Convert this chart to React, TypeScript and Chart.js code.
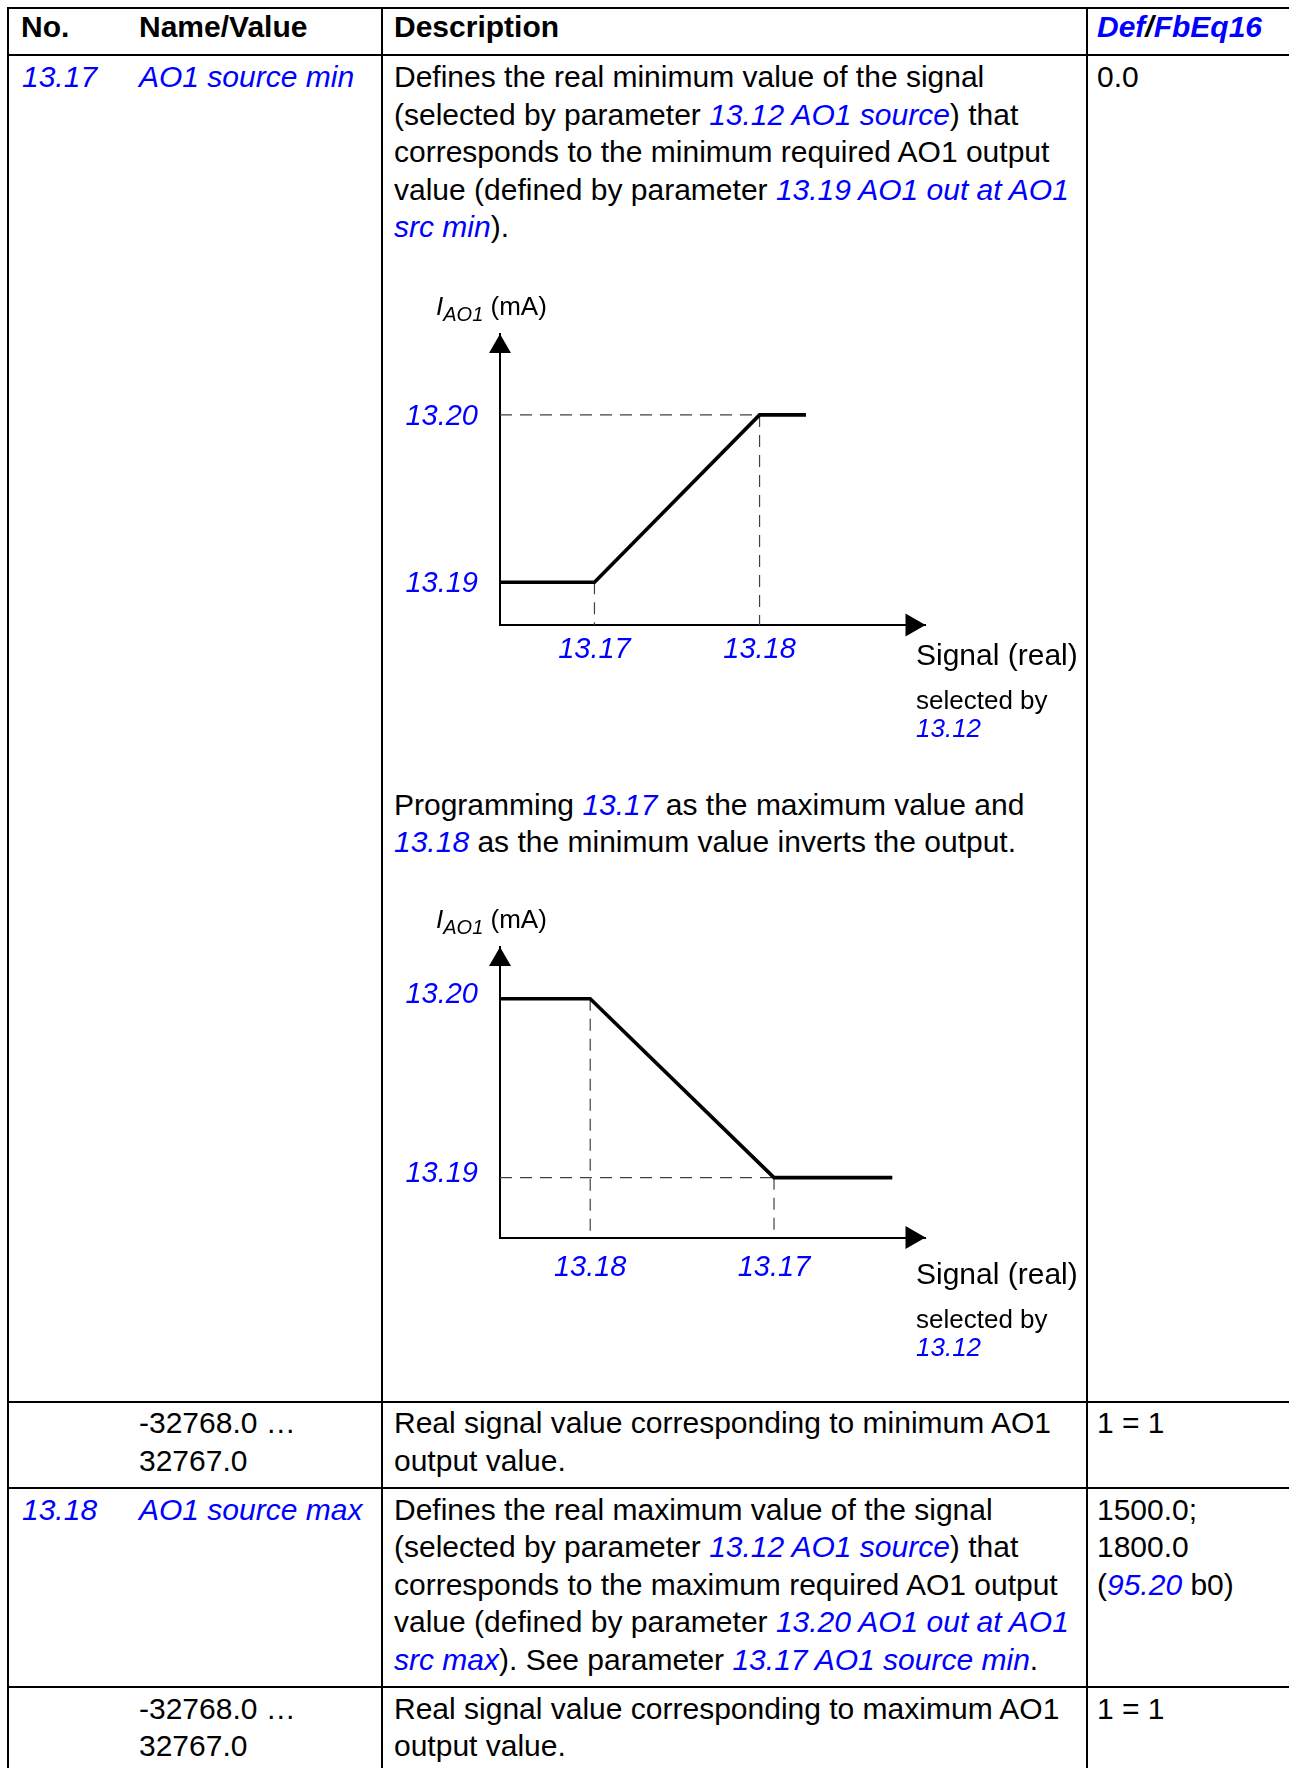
import React, { useEffect, useRef } from "react";
import { Chart, registerables } from "chart.js";

Chart.register(...registerables);

const FONT = '"Liberation Sans", Arial, Helvetica, sans-serif';
const BLUE = "#0000ff";

// ---------- Diagram 1: normal scaling (axis units 0..100 of drawn axis length) ----------
const d1XTickValues = [22.2, 61.0];
const d1XTickLabels = ["13.17", "13.18"];
const d1YTickValues = [14.7, 72.2];
const d1YTickLabels = ["13.19", "13.20"];
const d1CurveX = [0, 22.2, 61.0, 71.9];
const d1CurveY = [14.7, 14.7, 72.2, 72.2];
// guide lines: [x1, y1, x2, y2]
const d1Guides = [
  [0, 72.2, 61.0, 72.2],
  [61.0, 72.2, 61.0, 0],
  [22.2, 14.7, 22.2, 0],
];

// ---------- Diagram 2: inverted scaling ----------
const d2XTickValues = [21.2, 64.4];
const d2XTickLabels = ["13.18", "13.17"];
const d2YTickValues = [20.6, 82.2];
const d2YTickLabels = ["13.19", "13.20"];
const d2CurveX = [0, 21.2, 64.4, 92.2];
const d2CurveY = [82.2, 82.2, 20.6, 20.6];
const d2Guides = [
  [21.2, 82.2, 21.2, 0],
  [0, 20.6, 64.4, 20.6],
  [64.4, 20.6, 64.4, 0],
];

const arrowPlugin = {
  id: "axisArrows",
  afterDatasetsDraw(chart: any) {
    const { ctx, scales } = chart;
    const x = scales.x;
    const y = scales.y;
    const ox = x.getPixelForValue(x.min);
    const oy = y.getPixelForValue(y.min);
    const xt = x.getPixelForValue(x.max);
    const yt = y.getPixelForValue(y.max);
    ctx.save();
    ctx.fillStyle = "#000";
    ctx.beginPath();
    ctx.moveTo(xt, oy);
    ctx.lineTo(xt - 20, oy - 11.5);
    ctx.lineTo(xt - 20, oy + 11.5);
    ctx.closePath();
    ctx.fill();
    ctx.beginPath();
    ctx.moveTo(ox, yt);
    ctx.lineTo(ox - 11, yt + 19);
    ctx.lineTo(ox + 11, yt + 19);
    ctx.closePath();
    ctx.fill();
    ctx.restore();
  },
};

type DiagramProps = {
  left: number;
  top: number;
  width: number;
  height: number;
  areaTop: number;
  areaBottom: number;
  areaLeft: number;
  areaRight: number;
  xTicks: number[];
  xLabels: string[];
  yTicks: number[];
  yLabels: string[];
  curveX: number[];
  curveY: number[];
  guides: number[][];
  xLabelPad: number;
  yLabelOffset: number;
};

function Diagram(p: DiagramProps) {
  const ref = useRef<HTMLCanvasElement | null>(null);
  useEffect(() => {
    if (!ref.current) return;
    const curve = p.curveX.map((v, i) => ({ x: v, y: p.curveY[i] }));
    const guideSets = p.guides.map((g) => ({
      data: [
        { x: g[0], y: g[1] },
        { x: g[2], y: g[3] },
      ],
      borderColor: "#404040",
      borderWidth: 1.2,
      borderDash: [12, 8],
      pointRadius: 0,
      showLine: true,
      fill: false,
      clip: false as any,
    }));
    const chart = new Chart(ref.current, {
      type: "scatter",
      data: {
        datasets: [
          {
            data: curve,
            borderColor: "#000",
            borderWidth: 3.6,
            pointRadius: 0,
            showLine: true,
            fill: false,
            clip: false as any,
          },
          ...guideSets,
        ] as any,
      },
      plugins: [arrowPlugin],
      options: {
        animation: false,
        responsive: false,
        devicePixelRatio: 1,
        events: [],
        layout: {
          padding: {
            left: 0,
            top: p.areaTop - p.top,
            right: p.left + p.width - p.areaRight,
            bottom: 0,
          },
        },
        plugins: {
          legend: { display: false },
          tooltip: { enabled: false },
        },
        scales: {
          x: {
            type: "linear",
            min: 0,
            max: 100,
            afterBuildTicks: (s: any) => {
              s.ticks = p.xTicks.map((v) => ({ value: v }));
            },
            afterFit: (s: any) => {
              s.height = p.top + p.height - p.areaBottom;
            },
            grid: { display: false, drawTicks: false },
            border: { display: true, color: "#000", width: 2 },
            ticks: {
              autoSkip: false,
              maxRotation: 0,
              minRotation: 0,
              padding: p.xLabelPad,
              color: BLUE,
              font: { family: FONT, size: 29, style: "italic" },
              callback: (_v: any, i: number) => p.xLabels[i],
            },
          },
          y: {
            type: "linear",
            min: 0,
            max: 100,
            afterBuildTicks: (s: any) => {
              s.ticks = p.yTicks.map((v) => ({ value: v }));
            },
            afterFit: (s: any) => {
              s.width = p.areaLeft - p.left;
            },
            grid: { display: false, drawTicks: false },
            border: { display: true, color: "#000", width: 2 },
            ticks: {
              autoSkip: false,
              padding: 22,
              labelOffset: p.yLabelOffset,
              color: BLUE,
              font: { family: FONT, size: 29, style: "italic" },
              callback: (_v: any, i: number) => p.yLabels[i],
            },
          },
        },
      } as any,
    });
    return () => chart.destroy();
  }, []);
  return (
    <canvas
      ref={ref}
      width={p.width}
      height={p.height}
      style={{
        position: "absolute",
        left: p.left,
        top: p.top,
        width: p.width,
        height: p.height,
      }}
    />
  );
}

const L = (s: string) => <i style={{ color: BLUE }}>{s}</i>;

function T(props: {
  left: number;
  top: number;
  size?: number;
  lh?: number;
  bold?: boolean;
  children: any;
}) {
  const size = props.size ?? 30;
  const lh = props.lh ?? 37.5;
  return (
    <div
      style={{
        position: "absolute",
        left: props.left,
        top: props.top,
        fontSize: size,
        lineHeight: lh + "px",
        whiteSpace: "nowrap",
        fontWeight: props.bold ? "bold" : "normal",
        color: "#000",
        zIndex: 2,
      }}
    >
      {props.children}
    </div>
  );
}

function HLine({ y, x1 = 7, x2 = 1289 }: { y: number; x1?: number; x2?: number }) {
  return (
    <div
      style={{
        position: "absolute",
        left: x1,
        top: y,
        width: x2 - x1,
        height: 2,
        background: "#000",
      }}
    />
  );
}
function VLine({ x, y1 = 7, y2 = 1768 }: { x: number; y1?: number; y2?: number }) {
  return (
    <div
      style={{
        position: "absolute",
        left: x,
        top: y1,
        width: 2,
        height: y2 - y1,
        background: "#000",
      }}
    />
  );
}

function AxisTitle({ left, top }: { left: number; top: number }) {
  return (
    <div
      style={{
        position: "absolute",
        left,
        top,
        fontSize: 26,
        lineHeight: "30px",
        whiteSpace: "nowrap",
        zIndex: 2,
      }}
    >
      <i>I</i>
      <i style={{ fontSize: 20, position: "relative", top: 6 }}>AO1</i> (mA)
    </div>
  );
}

function SignalLabel({ left, top }: { left: number; top: number }) {
  return (
    <>
      <T left={left} top={top}>Signal (real)</T>
      <T left={left} top={top + 48.5} size={26} lh={30}>
        selected by
      </T>
      <T left={left} top={top + 77} size={26} lh={30}>
        {L("13.12")}
      </T>
    </>
  );
}

export default function App() {
  return (
    <div
      style={{
        position: "absolute",
        left: 0,
        top: 0,
        width: 1289,
        height: 1768,
        overflow: "hidden",
        background: "#fff",
        fontFamily: FONT,
        color: "#000",
      }}
    >
      {/* table grid */}
      <HLine y={7} />
      <HLine y={54} />
      <HLine y={1401} />
      <HLine y={1487} />
      <HLine y={1686} />
      <VLine x={7} />
      <VLine x={381} />
      <VLine x={1086} />

      {/* header */}
      <T left={21} top={8} bold>No.</T>
      <T left={139} top={8} bold>Name/Value</T>
      <T left={394} top={8} bold>Description</T>
      <T left={1097} top={8} bold>
        <i style={{ color: BLUE }}>Def</i>
        <i>/</i>
        <i style={{ color: BLUE }}>FbEq16</i>
      </T>

      {/* row 13.17 */}
      <T left={22} top={58}>{L("13.17")}</T>
      <T left={139} top={58}>{L("AO1 source min")}</T>
      <T left={394} top={58}>
        Defines the real minimum value of the signal
        <br />
        (selected by parameter {L("13.12 AO1 source")}) that
        <br />
        corresponds to the minimum required AO1 output
        <br />
        value (defined by parameter {L("13.19 AO1 out at AO1")}
        <br />
        {L("src min")}).
      </T>
      <T left={1097} top={58}>0.0</T>

      <Diagram
        left={384}
        top={280}
        width={700}
        height={470}
        areaLeft={500}
        areaRight={925.5}
        areaTop={334}
        areaBottom={625}
        xTicks={d1XTickValues}
        xLabels={d1XTickLabels}
        yTicks={d1YTickValues}
        yLabels={d1YTickLabels}
        curveX={d1CurveX}
        curveY={d1CurveY}
        guides={d1Guides}
        xLabelPad={8}
        yLabelOffset={2}
      />
      <AxisTitle left={436} top={291} />
      <SignalLabel left={916} top={636} />

      <T left={394} top={785.5}>
        Programming {L("13.17")} as the maximum value and
        <br />
        {L("13.18")} as the minimum value inverts the output.
      </T>

      <Diagram
        left={384}
        top={893}
        width={700}
        height={470}
        areaLeft={500}
        areaRight={925.5}
        areaTop={947}
        areaBottom={1237.5}
        xTicks={d2XTickValues}
        xLabels={d2XTickLabels}
        yTicks={d2YTickValues}
        yLabels={d2YTickLabels}
        curveX={d2CurveX}
        curveY={d2CurveY}
        guides={d2Guides}
        xLabelPad={13}
        yLabelOffset={-4}
      />
      <AxisTitle left={436} top={904} />
      <SignalLabel left={916} top={1255} />

      {/* row range (min) */}
      <T left={139} top={1404}>
        -32768.0 …
        <br />
        32767.0
      </T>
      <T left={394} top={1404}>
        Real signal value corresponding to minimum AO1
        <br />
        output value.
      </T>
      <T left={1097} top={1404}>1 = 1</T>

      {/* row 13.18 */}
      <T left={22} top={1490.5}>{L("13.18")}</T>
      <T left={139} top={1490.5}>{L("AO1 source max")}</T>
      <T left={394} top={1490.5}>
        Defines the real maximum value of the signal
        <br />
        (selected by parameter {L("13.12 AO1 source")}) that
        <br />
        corresponds to the maximum required AO1 output
        <br />
        value (defined by parameter {L("13.20 AO1 out at AO1")}
        <br />
        {L("src max")}). See parameter {L("13.17 AO1 source min")}.
      </T>
      <T left={1097} top={1490.5}>
        1500.0;
        <br />
        1800.0
        <br />({L("95.20")} b0)
      </T>

      {/* row range (max) */}
      <T left={139} top={1689.5}>
        -32768.0 …
        <br />
        32767.0
      </T>
      <T left={394} top={1689.5}>
        Real signal value corresponding to maximum AO1
        <br />
        output value.
      </T>
      <T left={1097} top={1689.5}>1 = 1</T>
    </div>
  );
}
